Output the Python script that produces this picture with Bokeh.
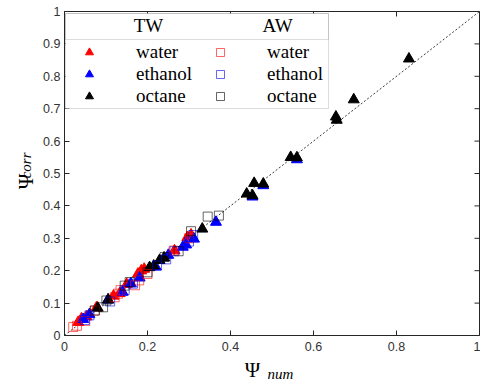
import math
from bokeh.plotting import figure
from bokeh.models import (Range1d, FixedTicker, LinearAxis, Legend, LegendItem,
                          Label, BoxAnnotation)
from bokeh.embed import file_html
from bokeh.resources import INLINE

# ---------------- data ----------------
tw_water_x = [0.033, 0.041, 0.053, 0.077, 0.118, 0.133, 0.150, 0.177, 0.185, 0.192, 0.265, 0.296, 0.305]
tw_water_y = [0.041, 0.052, 0.058, 0.086, 0.122, 0.130, 0.158, 0.190, 0.200, 0.205, 0.262, 0.303, 0.311]

tw_ethanol_x = [0.045, 0.060, 0.105, 0.140, 0.160, 0.181, 0.220, 0.250, 0.285, 0.293, 0.312, 0.365, 0.453, 0.479, 0.560]
tw_ethanol_y = [0.050, 0.065, 0.110, 0.134, 0.160, 0.178, 0.212, 0.248, 0.273, 0.280, 0.298, 0.350, 0.428, 0.463, 0.543]

tw_octane_x = [0.080, 0.105, 0.205, 0.215, 0.229, 0.240, 0.332, 0.439, 0.453, 0.457, 0.479, 0.545, 0.560, 0.654, 0.656, 0.697, 0.830]
tw_octane_y = [0.085, 0.110, 0.210, 0.215, 0.232, 0.240, 0.329, 0.437, 0.432, 0.470, 0.468, 0.550, 0.549, 0.675, 0.665, 0.728, 0.854]

aw_water_x = [0.021, 0.030, 0.050, 0.073, 0.121, 0.129, 0.135, 0.170, 0.180, 0.200, 0.263, 0.300]
aw_water_y = [0.026, 0.030, 0.045, 0.077, 0.118, 0.129, 0.140, 0.155, 0.170, 0.190, 0.262, 0.300]

aw_ethanol_x = [0.049, 0.060, 0.110, 0.145, 0.165, 0.223, 0.245, 0.265, 0.300, 0.310]
aw_ethanol_y = [0.048, 0.062, 0.105, 0.140, 0.160, 0.216, 0.235, 0.260, 0.290, 0.310]

aw_octane_x = [0.073, 0.093, 0.101, 0.145, 0.157, 0.200, 0.241, 0.275, 0.305, 0.345, 0.372]
aw_octane_y = [0.077, 0.087, 0.108, 0.154, 0.165, 0.195, 0.242, 0.260, 0.322, 0.367, 0.370]

diag_x = [0, 1]
diag_y = [0, 1]

x_ticks = [0, 0.2, 0.4, 0.6, 0.8, 1]
x_tick_labels = ["0", "0.2", "0.4", "0.6", "0.8", "1"]
y_ticks = [0, 0.1, 0.2, 0.3, 0.4, 0.5, 0.6, 0.7, 0.8, 0.9, 1]
y_tick_labels = ["0", "0.1", "0.2", "0.3", "0.4", "0.5", "0.6", "0.7", "0.8", "0.9", "1"]

series_labels = ["water", "ethanol", "octane"]
header_labels = ["TW", "AW"]
x_label_main, x_label_sub = "Ψ", "num"
y_label_main, y_label_sub = "Ψ", "corr"

# ---------------- figure ----------------
AX = "#262626"
SERIF = "Liberation Serif"

p = figure(width=480, height=385, output_backend="svg", toolbar_location=None,
           x_range=Range1d(0, 1), y_range=Range1d(0, 1),
           min_border_left=64, min_border_right=1, min_border_top=11, min_border_bottom=50)
p.background_fill_color = "white"
p.border_fill_color = "white"
p.outline_line_color = AX
p.grid.visible = False

for ax in (p.xaxis[0], p.yaxis[0]):
    ax.major_tick_in = 5
    ax.major_tick_out = 0
    ax.minor_tick_line_color = None
    ax.axis_line_color = AX
    ax.major_tick_line_color = AX
    ax.major_label_text_font = "Liberation Sans"
    ax.major_label_text_font_size = "12.5px"
    ax.major_label_text_color = "#333333"
p.xaxis[0].ticker = FixedTicker(ticks=x_ticks)
p.xaxis[0].major_label_overrides = {t: l for t, l in zip(x_ticks, x_tick_labels)}
p.xaxis[0].major_label_standoff = 6
p.yaxis[0].ticker = FixedTicker(ticks=y_ticks)
p.yaxis[0].major_label_overrides = {t: l for t, l in zip(y_ticks, y_tick_labels)}
p.yaxis[0].major_label_standoff = 4


def label_axis(pos, text, size, style, standoff, orientation="horizontal"):
    return LinearAxis(ticker=FixedTicker(ticks=[pos]), major_label_overrides={pos: text},
                      axis_line_color=None, major_tick_line_color=None,
                      minor_tick_line_color=None, major_tick_in=0, major_tick_out=0,
                      major_label_text_font=SERIF, major_label_text_font_size=size,
                      major_label_text_font_style=style, major_label_text_color="black",
                      major_label_standoff=standoff, major_label_orientation=orientation)


# x axis label  Ψ_num  (as positioned tick labels of label-only axes)
p.add_layout(label_axis(0.453, x_label_main, "21px", "normal", 4), "below")
p.add_layout(label_axis(0.52, x_label_sub, "15px", "italic", -19), "below")
# y axis label  Ψ_corr
p.add_layout(label_axis(0.525, y_label_sub, "15px", "italic", 6, "parallel"), "left")
p.add_layout(label_axis(0.475, y_label_main, "21px", "normal", -23, "parallel"), "left")

# ticks on the top and right edges of the box
p.scatter(x_ticks, [1] * len(x_ticks), marker="dash", size=10, angle=math.pi / 2,
          line_color=AX, line_width=1)
p.scatter([1] * len(y_ticks), y_ticks, marker="dash", size=10,
          line_color=AX, line_width=1)

# diagonal
p.line(diag_x, diag_y, line_color="#3a3a3a", line_dash="2 2", line_width=1)

# triangles
r_tw = []
for xs, ys, c in ((tw_water_x, tw_water_y, "#ff0000"),
                  (tw_ethanol_x, tw_ethanol_y, "#0000ff"),
                  (tw_octane_x, tw_octane_y, "#000000")):
    r_tw.append(p.scatter(xs, ys, marker="triangle", size=11, fill_color=c, line_color=c))

# squares
r_aw = []
for xs, ys, c in ((aw_water_x, aw_water_y, "#ff0000"),
                  (aw_ethanol_x, aw_ethanol_y, "#0000ff"),
                  (aw_octane_x, aw_octane_y, "#000000")):
    r_aw.append(p.scatter(xs, ys, marker="square", size=9, fill_color=None,
                          line_color=c, line_alpha=0.6, line_width=1))

# legend frame
p.add_layout(BoxAnnotation(left=1, right=264, bottom=227, top=322,
                           left_units="screen", right_units="screen",
                           bottom_units="screen", top_units="screen",
                           fill_color="white", fill_alpha=1,
                           line_color="#8c8c8c", line_width=1, level="annotation"))
p.add_layout(BoxAnnotation(left=1, right=264, bottom=296, top=322,
                           left_units="screen", right_units="screen",
                           bottom_units="screen", top_units="screen",
                           fill_alpha=0, line_color="#8c8c8c", line_width=1,
                           level="annotation"))

for hx, txt in zip((84, 213), header_labels):
    p.add_layout(Label(x=hx, y=310, x_units="screen", y_units="screen", text=txt,
                       text_font=SERIF, text_font_size="19px", text_align="center",
                       text_baseline="middle", text_color="black"))

for lx, rends in ((15, r_tw), (146, r_aw)):
    leg = Legend(items=[LegendItem(label=lab, renderers=[r]) for lab, r in zip(series_labels, rends)],
                 location=(lx, 228), orientation="vertical",
                 border_line_color=None, background_fill_alpha=0,
                 padding=0, margin=0, spacing=0,
                 glyph_width=20, glyph_height=22, label_height=22, label_standoff=37,
                 label_text_font=SERIF, label_text_font_size="19px",
                 label_text_color="black", label_text_baseline="middle")
    p.add_layout(leg)

open("out.html", "w").write(file_html(p, INLINE))
